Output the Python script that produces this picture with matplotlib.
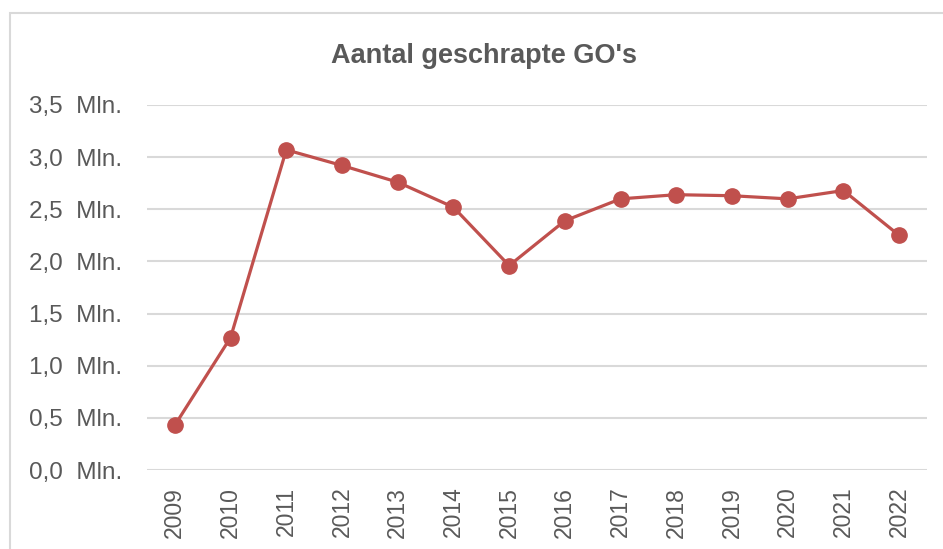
import matplotlib.pyplot as plt
from matplotlib.patches import Rectangle

years = ["2009", "2010", "2011", "2012", "2013", "2014", "2015",
         "2016", "2017", "2018", "2019", "2020", "2021", "2022"]
values = [0.43, 1.27, 3.07, 2.92, 2.76, 2.52, 1.96,
          2.39, 2.60, 2.64, 2.63, 2.60, 2.68, 2.25]
y_ticks = [0.0, 0.5, 1.0, 1.5, 2.0, 2.5, 3.0, 3.5]

text_color = "#595959"
line_color = "#C0504D"

plt.rcParams['font.family'] = ['Liberation Sans', 'DejaVu Sans']

fig = plt.figure(figsize=(9.43, 5.49), dpi=100)

# chart border (runs off the right and bottom edge)
fig.patches.append(Rectangle((10 / 943, -0.1), 1.0, 1 - 13 / 549 + 0.1,
                             transform=fig.transFigure, fill=False,
                             edgecolor="#d9d9d9", linewidth=1.5))

ax = fig.add_axes([147 / 943, 1 - 470 / 549, 780 / 943, 365 / 549])

x = list(range(len(years)))
ax.plot(x, values, color=line_color, linewidth=2.3,
        marker="o", markersize=11, zorder=3)

ax.set_xlim(-0.5, len(years) - 0.5)
ax.set_ylim(0, 3.5)
ax.set_yticks(y_ticks)
ax.set_yticklabels([f"{v:.1f}".replace(".", ",") + "  Mln." for v in y_ticks])
ax.set_xticks(x)
ax.set_xticklabels(years, rotation=90)

ax.tick_params(axis="both", length=0, colors=text_color)
ax.tick_params(axis="y", pad=18, labelsize=17.5)
ax.tick_params(axis="x", pad=12, labelsize=16.5)

ax.grid(axis="y", color="#d9d9d9", linewidth=1.5)
ax.set_axisbelow(True)
for side in ["top", "right", "left", "bottom"]:
    ax.spines[side].set_visible(False)

fig.text(484 / 943, 1 - 56 / 549, "Aantal geschrapte GO's", ha="center",
         va="center", fontsize=19.5, fontweight="bold", color=text_color)

fig.savefig("out.png", dpi=100)
